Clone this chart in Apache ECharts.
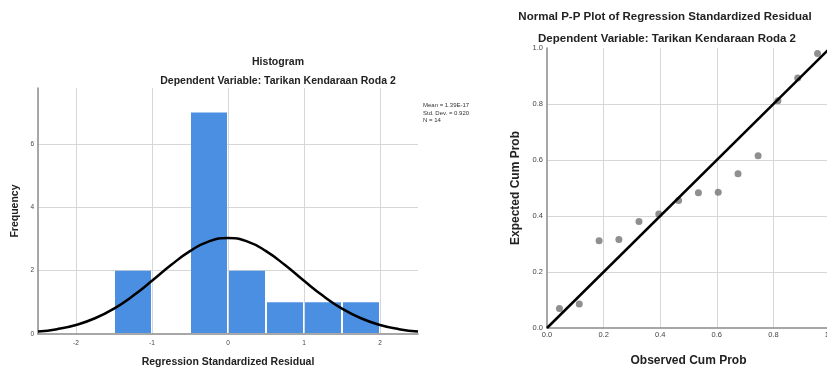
<!DOCTYPE html>
<html><head><meta charset="utf-8">
<script src="https://cdn.jsdelivr.net/npm/echarts@6/dist/echarts.min.js"></script>
<style>html,body{margin:0;padding:0;background:#fff}#c{width:827px;height:367px}</style>
</head><body><div id="c"></div>
<script>
// Histogram data
const binStarts = [-1.5, -0.5, 0.0, 0.5, 1.0, 1.5];
const binEnds   = [-1.0,  0.0, 0.5, 1.0, 1.5, 2.0];
const binCounts = [2, 7, 2, 1, 1, 1];
// Normal curve overlay (Mean ~0, SD 0.920, N 14)
const curveX = [-2.5,-2.25,-2,-1.75,-1.5,-1.25,-1,-0.75,-0.5,-0.25,0,0.25,0.5,0.75,1,1.25,1.5,1.75,2,2.25,2.5];
const curveY = [0.076,0.153,0.286,0.497,0.803,1.206,1.681,2.177,2.618,2.925,3.035,2.925,2.618,2.177,1.681,1.206,0.803,0.497,0.286,0.153,0.076];
const statsLines = ['Mean = 1.39E-17', 'Std. Dev. = 0.920', 'N = 14'];
// P-P plot data
const observedCum = [0.044,0.114,0.184,0.254,0.325,0.395,0.465,0.535,0.605,0.675,0.746,0.816,0.886,0.956];
const expectedCum = [0.070,0.086,0.312,0.316,0.380,0.407,0.455,0.483,0.485,0.551,0.615,0.812,0.893,0.980];
const diagonal = [[0,0],[1,1]];

const FONT = 'Liberation Sans, Arial, sans-serif';
const GRID = '#d6d6d6', NONE = 'rgba(0,0,0,0)';
const chart = echarts.init(document.getElementById('c'), null, {renderer:'canvas'});

const histData = binStarts.map((s,i)=>[s, binEnds[i], binCounts[i]]);

chart.setOption({
  backgroundColor: '#ffffff',
  animation: false,
  grid: [
    {left: 38, top: 88, width: 380, height: 246, outerBoundsMode:'none', containLabel:false},
    {left: 547, top: 48, width: 283, height: 280, outerBoundsMode:'none', containLabel:false}
  ],
  xAxis: [
    {gridIndex:0, type:'value', min:-2.5, max:2.5, splitNumber:5,
     axisLine:{show:true, onZero:false, lineStyle:{color:'#8a8a8a', width:1.5}},
     axisTick:{show:false},
     axisLabel:{fontSize:6.5, color:'#444', fontFamily:FONT, margin:6, showMinLabel:false, showMaxLabel:false},
     splitLine:{show:true, lineStyle:{color:[NONE,GRID,GRID,GRID,GRID,GRID,NONE], width:1}},
     name:'Regression Standardized Residual', nameLocation:'middle', nameGap:23,
     nameTextStyle:{fontSize:10.5, fontWeight:'bold', color:'#222', fontFamily:FONT}},
    {gridIndex:1, type:'value', min:0, max:1, interval:0.2,
     axisLine:{show:true, onZero:false, lineStyle:{color:'#8a8a8a', width:1.5}},
     axisTick:{show:false},
     axisLabel:{fontSize:7.5, color:'#444', fontFamily:FONT, margin:3, formatter:v=>v.toFixed(1)},
     splitLine:{show:true, lineStyle:{color:[NONE,GRID,GRID,GRID,GRID,NONE], width:1}},
     name:'Observed Cum Prob', nameLocation:'middle', nameGap:27,
     nameTextStyle:{fontSize:12, fontWeight:'bold', color:'#222', fontFamily:FONT}}
  ],
  yAxis: [
    {gridIndex:0, type:'value', min:0, max:7.77, interval:2,
     axisLine:{show:true, onZero:false, lineStyle:{color:'#8a8a8a', width:1.5}},
     axisTick:{show:false},
     axisLabel:{fontSize:6.5, color:'#444', fontFamily:FONT, margin:4, showMaxLabel:false},
     splitLine:{show:true, lineStyle:{color:[NONE,GRID,GRID,GRID,NONE], width:1}},
     name:'Frequency', nameLocation:'middle', nameGap:17,
     nameTextStyle:{fontSize:10.5, fontWeight:'bold', color:'#222', fontFamily:FONT}},
    {gridIndex:1, type:'value', min:0, max:1, interval:0.2,
     axisLine:{show:true, onZero:false, lineStyle:{color:'#8a8a8a', width:1.5}},
     axisTick:{show:false},
     axisLabel:{fontSize:7.5, color:'#444', fontFamily:FONT, margin:4, formatter:v=>v.toFixed(1)},
     splitLine:{show:true, lineStyle:{color:[NONE,GRID,GRID,GRID,GRID,NONE], width:1}},
     name:'Expected Cum Prob', nameLocation:'middle', nameGap:25,
     nameTextStyle:{fontSize:12, fontWeight:'bold', color:'#222', fontFamily:FONT}}
  ],
  graphic: [
    {type:'text', x:278, y:62, style:{text:'Histogram', fill:'#222', font:'bold 10.5px '+FONT, textAlign:'center', textVerticalAlign:'middle'}},
    {type:'text', x:278, y:81, style:{text:'Dependent Variable: Tarikan Kendaraan Roda 2', fill:'#222', font:'bold 10.5px '+FONT, textAlign:'center', textVerticalAlign:'middle'}},
    {type:'text', x:665, y:17, style:{text:'Normal P-P Plot of Regression Standardized Residual', fill:'#222', font:'bold 11.5px '+FONT, textAlign:'center', textVerticalAlign:'middle'}},
    {type:'text', x:667, y:39, style:{text:'Dependent Variable: Tarikan Kendaraan Roda 2', fill:'#222', font:'bold 11.5px '+FONT, textAlign:'center', textVerticalAlign:'middle'}},
    {type:'text', x:423, y:102, style:{text:statsLines.join('\n'), fill:'#333', font:'6px '+FONT, lineHeight:7.5, textAlign:'left', textVerticalAlign:'top'}}
  ],
  series: [
    {type:'custom', xAxisIndex:0, yAxisIndex:0, data:histData, z:3,
     renderItem:function(params, api){
       const p0 = api.coord([api.value(0), api.value(2)]);
       const p1 = api.coord([api.value(1), 0]);
       return {type:'rect', shape:{x:p0[0]+1, y:p0[1], width:p1[0]-p0[0]-2, height:p1[1]-p0[1]-1},
               style:{fill:'#4a8fe2'}};
     }},
    {type:'line', xAxisIndex:0, yAxisIndex:0, data:curveX.map((x,i)=>[x,curveY[i]]), smooth:true,
     showSymbol:false, z:5, lineStyle:{color:'#000', width:2.5}},
    {type:'scatter', xAxisIndex:1, yAxisIndex:1, data:observedCum.map((x,i)=>[x,expectedCum[i]]),
     symbolSize:7, itemStyle:{color:'#737373'}, z:3},
    {type:'line', xAxisIndex:1, yAxisIndex:1, data:diagonal, showSymbol:false, z:5,
     lineStyle:{color:'#000', width:2.5}}
  ]
});
</script></body></html>
